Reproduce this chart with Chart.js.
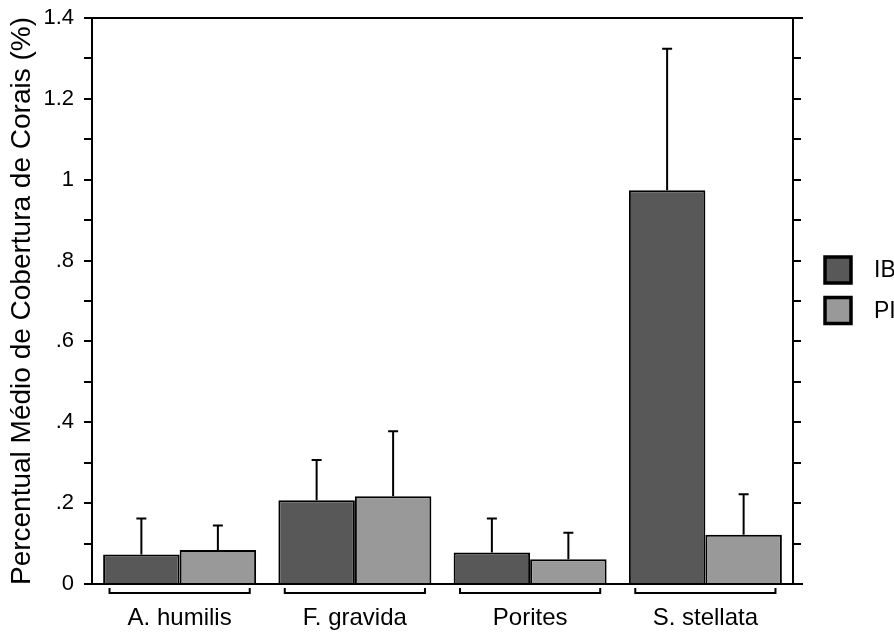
<!DOCTYPE html>
<html>
<head>
<meta charset="utf-8">
<script src="https://cdn.jsdelivr.net/npm/chart.js@4/dist/chart.umd.min.js"></script>
<style>
  html, body { margin: 0; padding: 0; background: #fff; }
  #wrap { width: 894px; height: 632px; }
</style>
</head>
<body>
<div id="wrap"><canvas id="c" width="894" height="632"></canvas></div>
<script>
// Mean coral cover (%) per species, two sites, with standard error (upper bar only)
const categories = ['A. humilis', 'F. gravida', 'Porites', 'S. stellata'];
const seriesNames = ['IB', 'PI'];
const ibMeans = [0.073, 0.207, 0.078, 0.974];
const ibErrors = [0.089, 0.100, 0.084, 0.350];
const piMeans = [0.084, 0.217, 0.061, 0.122];
const piErrors = [0.061, 0.161, 0.066, 0.100];
const yTickLabels = ['0', '.2', '.4', '.6', '.8', '1', '1.2', '1.4'];

const FONT = '"Liberation Sans", Arial, sans-serif';
Chart.defaults.font.family = FONT;
Chart.defaults.color = '#000';

// Upper error whiskers with a small cap
const errorBars = {
  id: 'errorBars',
  afterDatasetsDraw(chart) {
    const ctx = chart.ctx;
    const y = chart.scales.y;
    ctx.save();
    ctx.strokeStyle = '#000';
    ctx.lineWidth = 2;
    chart.data.datasets.forEach((ds, di) => {
      const meta = chart.getDatasetMeta(di);
      meta.data.forEach((bar, i) => {
        const top = y.getPixelForValue(ds.data[i] + ds.errors[i]);
        const base = y.getPixelForValue(ds.data[i]);
        ctx.beginPath();
        ctx.moveTo(bar.x, base);
        ctx.lineTo(bar.x, top);
        ctx.moveTo(bar.x - 5, top);
        ctx.lineTo(bar.x + 5, top);
        ctx.stroke();
      });
    });
    ctx.restore();
  }
};

// Frame extensions, category brackets and the legend at the right
const decorations = {
  id: 'decorations',
  afterDraw(chart) {
    const ctx = chart.ctx;
    const area = chart.chartArea;
    const x = chart.scales.x;
    ctx.save();
    ctx.strokeStyle = '#000';
    ctx.lineWidth = 2;
    // top and bottom lines reach past both axes
    ctx.beginPath();
    ctx.moveTo(area.left - 8, area.top);
    ctx.lineTo(area.right + 10, area.top);
    ctx.moveTo(area.left - 8, area.bottom);
    ctx.lineTo(area.right + 10, area.bottom);
    ctx.stroke();

    // bracket under each category group
    const step = (area.right - area.left) / categories.length;
    ctx.lineWidth = 2;
    categories.forEach((c, i) => {
      const cx = x.getPixelForValue(i);
      const l = cx - step * 0.4, r = cx + step * 0.4;
      const by = area.bottom + 9;
      ctx.beginPath();
      ctx.moveTo(l, by - 5);
      ctx.lineTo(l, by);
      ctx.lineTo(r, by);
      ctx.lineTo(r, by - 5);
      ctx.stroke();
    });

    // legend
    chart.data.datasets.forEach((ds, di) => {
      const lx = area.right + 32;
      const ly = 257 + di * 40.5;
      ctx.fillStyle = ds.backgroundColor;
      ctx.fillRect(lx, ly, 26, 26);
      ctx.lineWidth = 3.5;
      ctx.strokeStyle = '#000';
      ctx.strokeRect(lx, ly, 26, 26);
      ctx.fillStyle = '#000';
      ctx.font = '23px ' + FONT;
      ctx.textBaseline = 'middle';
      ctx.textAlign = 'left';
      ctx.fillText(ds.label, lx + 49, ly + 14);
    });
    ctx.restore();
  }
};

// fixed axis sizes; the label overhang is absorbed by the layout padding
const fixWidth = (w) => (s) => { s.width = w; s.paddingTop = 0; s.paddingBottom = 0; };

new Chart(document.getElementById('c'), {
  type: 'bar',
  data: {
    labels: categories,
    datasets: [
      { label: seriesNames[0], data: ibMeans, errors: ibErrors,
        backgroundColor: '#585858', borderColor: '#000', borderWidth: 2 },
      { label: seriesNames[1], data: piMeans, errors: piErrors,
        backgroundColor: '#999999', borderColor: '#000', borderWidth: 2 }
    ]
  },
  options: {
    responsive: false,
    animation: false,
    devicePixelRatio: 1,
    layout: { padding: { top: 18, left: 0, right: 0, bottom: 0 } },
    datasets: { bar: { categoryPercentage: 0.873, barPercentage: 1.0 } },
    plugins: { legend: { display: false }, tooltip: { enabled: false } },
    scales: {
      x: {
        grid: { display: false },
        border: { display: true, color: '#000', width: 2 },
        ticks: { font: { size: 24 }, padding: 12, color: '#000' },
        afterFit(s) { s.height = 48; s.paddingLeft = 0; s.paddingRight = 0; }
      },
      y: {
        min: 0, max: 1.4,
        position: 'left',
        grid: { drawOnChartArea: false, drawTicks: true, tickLength: 8, color: '#000', lineWidth: 2 },
        border: { display: true, color: '#000', width: 2 },
        ticks: {
          stepSize: 0.1,
          autoSkip: false,
          padding: 10,
          font: { size: 22 },
          color: '#000',
          callback: (v, i) => (i % 2 === 0 ? yTickLabels[i / 2] : '')
        },
        title: {
          display: true,
          text: 'Percentual Médio de Cobertura de Corais (%)',
          font: { size: 28 },
          color: '#000',
          padding: { top: 5, bottom: 0 }
        },
        afterFit: fixWidth(92)
      },
      y2: {
        min: 0, max: 1.4,
        position: 'right',
        grid: { drawOnChartArea: false, drawTicks: true, tickLength: 8, color: '#000', lineWidth: 2 },
        border: { display: true, color: '#000', width: 2 },
        ticks: { stepSize: 0.1, autoSkip: false, display: false },
        afterFit: fixWidth(101)
      }
    }
  },
  plugins: [errorBars, decorations]
});
</script>
</body>
</html>
